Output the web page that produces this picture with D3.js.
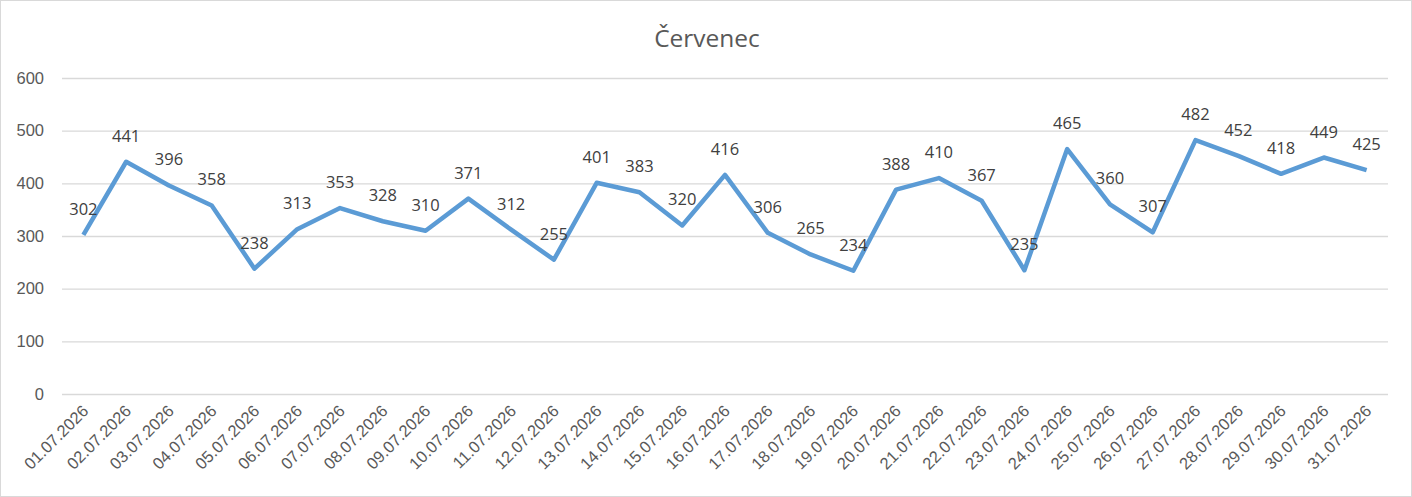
<!DOCTYPE html>
<html>
<head>
<meta charset="utf-8">
<script src="https://cdn.jsdelivr.net/npm/d3@7"></script>
<style>
  body { margin: 0; background: #fff; }
  svg { display: block; font-family: "Open Sans", "Noto Sans", sans-serif; }
</style>
</head>
<body>
<svg width="1412" height="497"></svg>
<script>
const dates = ["01.07.2026","02.07.2026","03.07.2026","04.07.2026","05.07.2026","06.07.2026",
  "07.07.2026","08.07.2026","09.07.2026","10.07.2026","11.07.2026","12.07.2026","13.07.2026",
  "14.07.2026","15.07.2026","16.07.2026","17.07.2026","18.07.2026","19.07.2026","20.07.2026",
  "21.07.2026","22.07.2026","23.07.2026","24.07.2026","25.07.2026","26.07.2026","27.07.2026",
  "28.07.2026","29.07.2026","30.07.2026","31.07.2026"];
const values = [302,441,396,358,238,313,353,328,310,371,312,255,401,383,320,416,306,265,234,
  388,410,367,235,465,360,307,482,452,418,449,425];
const yTicks = [0,100,200,300,400,500,600];
const title = "Červenec";

const svg = d3.select("svg");
const plotLeft = 62, plotRight = 1388, plotTop = 78, plotBottom = 394;

svg.append("rect")
  .attr("x", 0.5).attr("y", 0.5)
  .attr("width", 1411).attr("height", 496)
  .attr("fill", "#fff").attr("stroke", "#d9d9d9");

const x = d3.scaleBand().domain(dates).range([plotLeft, plotRight]);
const y = d3.scaleLinear().domain([0, 600]).range([plotBottom, plotTop]);

// gridlines + y labels
const yAxis = svg.append("g")
  .attr("transform", "translate(" + plotLeft + ",0)")
  .call(d3.axisLeft(y).tickValues(yTicks).tickSize(-(plotRight - plotLeft)).tickPadding(18));
yAxis.select(".domain").remove();
yAxis.selectAll("line").attr("stroke", "#d9d9d9").attr("stroke-width", 1.3);
yAxis.selectAll("text").attr("fill", "#595959").style("font-size", "16.5px");

// x labels
const xAxis = svg.append("g")
  .attr("transform", "translate(0," + plotBottom + ")")
  .call(d3.axisBottom(x).tickSize(0).tickPadding(0));
xAxis.select(".domain").remove();
xAxis.selectAll("text")
  .attr("fill", "#595959")
  .style("font-size", "16.5px")
  .attr("text-anchor", "end")
  .attr("dy", 0)
  .attr("transform", "translate(6,18) rotate(-45)");

const line = d3.line()
  .x((d, i) => x(dates[i]) + x.bandwidth() / 2)
  .y(d => y(d));

svg.append("path")
  .datum(values)
  .attr("d", line)
  .attr("fill", "none")
  .attr("stroke", "#5b9bd5")
  .attr("stroke-width", 4.5)
  .attr("stroke-linejoin", "round");

svg.append("g")
  .selectAll("text")
  .data(values)
  .enter().append("text")
  .attr("x", (d, i) => x(dates[i]) + x.bandwidth() / 2)
  .attr("y", d => y(d) - 20)
  .attr("text-anchor", "middle")
  .attr("fill", "#404040")
  .style("font-size", "16.5px")
  .text(d => d);

svg.append("text")
  .attr("x", 707)
  .attr("y", 47)
  .attr("text-anchor", "middle")
  .attr("fill", "#595959")
  .style("font-size", "24.5px")
  .text(title);
</script>
</body>
</html>
